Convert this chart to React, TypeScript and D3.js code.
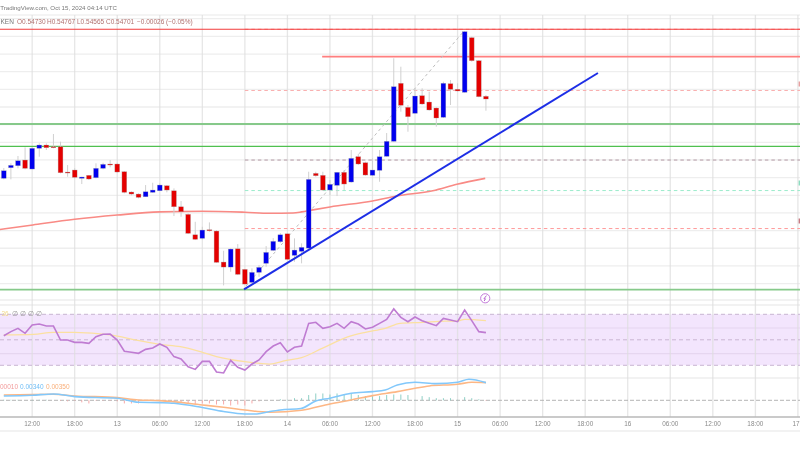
import React from "react";
import * as d3 from "d3";

const opens = [.52480,.52780,.52837,.52998,.52743,.53330,.53423,.53375,.53375,.52658,.52715,.52480,.52565,.52497,.52763,.52885,.52885,.52667,.52092,.52035,.51958,.52083,.52128,.52270,.52128,.51675,.51460,.50882,.50780,.51024,.50987,.50109,.49967,.50485,.49902,.49533,.49817,.50072,
.50440,.50684,.50910,.50298,.50411,.50505,.52621,.52565,.52148,.52281,.52650,.52375,.53092,.52922,.52565,.52706,.53103,.53528,.55171,.54491,.54321,.54820,.54641,.54471,.54208,.55160,.55001,.54916,.56463,.55811,.54803];
const highs = [.52772,.52905,.53112,.53358,.53358,.53471,.53471,.53735,.53517,.52856,.52763,.52525,.52573,.52905,.52922,.52998,.52922,.52687,.52112,.52055,.52290,.52355,.52338,.52290,.52196,.51837,.51488,.51250,.51109,.51233,.51015,.50429,.50497,.50618,.49910,.49930,.50024,.50562,
.50788,.50930,.50922,.50780,.50638,.52667,.52667,.52667,.52432,.52658,.52715,.53282,.53168,.52950,.53046,.53282,.53763,.55879,.55641,.54556,.55029,.55029,.54933,.54491,.55216,.55265,.55171,.56653,.56491,.55831,.54840];
const lows = [.52451,.52451,.52763,.52735,.52735,.53092,.53282,.53330,.52621,.52525,.52480,.52318,.52432,.52480,.52735,.52791,.52638,.52055,.51998,.51913,.51958,.52072,.52120,.52083,.51412,.51392,.50902,.50732,.50752,.50967,.50089,.49448,.49834,.49740,.49477,.49505,.49692,.49975,
.50420,.50647,.50165,.50117,.50072,.50485,.52525,.52128,.52007,.51978,.52148,.52355,.52856,.52553,.52545,.52383,.53092,.53517,.54367,.53800,.54301,.54556,.54395,.53942,.54188,.54556,.54933,.54905,.55783,.54774,.54395];
const closes = [.52695,.52848,.52978,.52763,.53330,.53423,.53347,.53358,.52638,.52630,.52508,.52517,.52460,.52763,.52876,.52865,.52658,.52083,.52035,.51941,.52100,.52148,.52290,.52148,.51675,.51534,.50922,.50752,.51015,.50995,.50100,.49967,.50477,.49760,.49485,.49817,.49958,.50383,
.50695,.50882,.50185,.50448,.50525,.52451,.52553,.52148,.52310,.52650,.52318,.53046,.52885,.52573,.52715,.53092,.53528,.55075,.54548,.54225,.54811,.54585,.54415,.54188,.55171,.55001,.54953,.56633,.55811,.54791,.54726];

const maIdx = [-0.54,4.1,10,16,22,28,34,37.5,40.8,42,43.4,46,52,55.4,60.5,63.9,67.9];
const maVals = [.5103,.5116,.5132,.5144,.5153,.5155,.5152,.5149,.5150,.5153,.5158,.5167,.5184,.5198,.5213,.5231,.5248];

const solidLevels = [.56701,.53386];
const softLevels = [.55925,.54018,.49329];
const softLevelStart = [44.9, -1, -1];
const dashedLevels = [.56701,.54967,.52998,.52134,.51058];
const dashedColors = ["#ff9a9a","#f9b0b0","#b49aa6","#9ceccc","#ff9a9a"];
const gridPrices = d3.range(0.495, 0.5701, 0.005);

const trendIdx = [33.88,83.8];
const trendVals = [.49335,.55463];
const fibIdx = [34.16,64.9];
const fibVals = [.4943,.5665];

const rsi = [53.2,56.4,59.0,55.1,61.6,62.4,60.8,60.8,49.8,49.8,48.0,48.0,47.2,52.4,54.3,54.5,49.8,41.0,40.2,39.4,42.5,43.6,46.7,44.1,36.8,35.0,28.9,26.8,33.1,33.1,24.7,24.0,33.9,28.4,26.3,31.0,34.2,40.7,45.1,47.7,40.4,44.1,45.1,62.9,63.7,59.0,60.3,62.9,59.0,64.2,62.4,58.5,59.8,62.9,66.0,74.2,67.6,64.2,67.9,65.0,62.9,61.1,66.8,65.5,64.2,73.4,65.0,56.4,55.6];
const rsiMaIdx = [0,4.2,7,10,15,18.7,22,24.9,28,30,34,37.5,39.7,42,44.9,48.6,51,53.8,55.9,59,62.3,64,65,68];
const rsiMa = [53.8,54.3,55.9,55.9,53.8,49.8,46.4,44.6,40.2,36.8,32.8,31.0,33.6,36.0,43.3,52.5,55.9,59.0,62.9,63.7,64.7,64.7,66.0,65.0];

const macdIdx = [0,4,7,10,16,19,22,24,28,31,34,35.7,37.5,39,41.9,44,46,49,52,53.8,55.5,58,61,64,65.6,68];
const macdVals = [.00083,.00096,.00121,.0007,.00039,-.00037,-.00044,-.00056,-.00138,-.00214,-.00259,-.00259,-.00214,-.00183,-.00157,-.00012,.00039,.00134,.00165,.00197,.00292,.00343,.00317,.00343,.004,.00336];
const signalIdx = [0,7,10,16,19,22,28,31,34,37.5,42,46,49,52,55.5,58,60,64,66,68];
const signalVals = [.00102,.00115,.00083,.00052,.00007,-.00006,-.00088,-.00132,-.00183,-.00227,-.00189,-.00069,.00007,.00089,.00165,.00229,.00273,.00305,.00343,.00336];
const hist = [.0001,.0001,.0001,0,.0001,.0001,.0001,0,-.0001,-.0002,-.0001,-.0004,-.0006,-.0001,-.0001,-.0001,-.0002,-.0006,-.0006,-.0006,-.0001,-.0001,-.0001,-.0001,-.0002,-.0004,-.0006,-.0008,-.0006,-.0006,-.0008,-.0008,-.001,-.0008,-.001,-.0006,-.0002,0,0,.0002,.0001,.0004,.0004,.001,.0013,.0013,.0011,.0013,.0011,.0013,.001,.0008,.0008,.0008,.001,.0011,.0011,.001,.0001,.0008,.0006,.0004,.0004,.0004,.0001,.0006,.0004,.0002,-.0001];

const tickIdx = d3.range(4, 113, 6);
const tickLabels = ["12:00","18:00","13","06:00","12:00","18:00","14","06:00","12:00","18:00","15","06:00","12:00","18:00","16","06:00","12:00","18:00","17"];

const headerTitle = "TradingView.com, Oct 15, 2024 04:14 UTC";
const ohlcLabels = ["O0.54730","H0.54767","L0.54565","C0.54701","−0.00026 (−0.05%)"];
const ohlcPos = [17,47,77,106,137];
const rsiNulls = ["∅","∅","∅","∅"];

const W = 800, H = 450;
const x = d3.scaleLinear().domain([0, 112]).range([3.8, 797.9]);
const y = d3.scaleLinear().domain([0.5753, 0.545]).range([0, 107]);
const yRsi = d3.scaleLinear().domain([70, 30]).range([314.3, 365.3]);
const yMacd = d3.scaleLinear().domain([0, 0.0038]).range([400.3, 380.3]);

const FONT = "'Liberation Sans', Arial, sans-serif";
const AXIS_Y = 417;

export default function App() {
  const maPath = d3.line<number>().x((_, i) => x(maIdx[i])).y((d) => y(d)).curve(d3.curveMonotoneX)(maVals)!;
  const rsiPath = d3.line<number>().x((_, i) => x(i)).y((d) => yRsi(d))(rsi)!;
  const rsiMaPath = d3.line<number>().x((_, i) => x(rsiMaIdx[i])).y((d) => yRsi(d)).curve(d3.curveMonotoneX)(rsiMa)!;
  const macdPath = d3.line<number>().x((_, i) => x(macdIdx[i])).y((d) => yMacd(d)).curve(d3.curveMonotoneX)(macdVals)!;
  const signalPath = d3.line<number>().x((_, i) => x(signalIdx[i])).y((d) => yMacd(d)).curve(d3.curveMonotoneX)(signalVals)!;
  const bw = 4.8;

  return (
    <svg width={W} height={H} viewBox={`0 0 ${W} ${H}`} style={{ position: "fixed", left: 0, top: 0, background: "#fff" }} fontFamily={FONT}>
      <defs>
        <filter id="soft" x="-2%" y="-2%" width="104%" height="104%">
          <feGaussianBlur stdDeviation="0.45" />
        </filter>
        <filter id="softText" x="-5%" y="-50%" width="110%" height="200%">
          <feGaussianBlur stdDeviation="0.3" />
        </filter>
      </defs>
      <rect width={W} height={H} fill="#fff" />
      <g filter="url(#soft)">
        {/* grid */}
        {gridPrices.map((p) => (
          <line key={p} x1={0} x2={W} y1={y(p)} y2={y(p)} stroke="#eeeeee" strokeWidth={1.3} />
        ))}
        <line x1={0} x2={W} y1={15} y2={15} stroke="#f1f1f1" strokeWidth={1.3} />
        {[300, 305, 378, 431].map((v) => (
          <line key={v} x1={0} x2={W} y1={v} y2={v} stroke="#eeeeee" strokeWidth={1.3} />
        ))}
        {/* RSI band */}
        <rect x={0} y={yRsi(70)} width={W} height={yRsi(30) - yRsi(70)} fill="#f3e5fd" />
        {[328, 353.6].map((v) => (
          <line key={v} x1={0} x2={W} y1={v} y2={v} stroke="#e6d6f0" strokeWidth={1.2} />
        ))}
        {tickIdx.map((t) => (
          <line key={t} x1={x(t)} x2={x(t)} y1={15} y2={AXIS_Y} stroke="#dddddd" strokeOpacity={0.75} strokeWidth={1.3} />
        ))}
        {[70, 50, 30].map((v) => (
          <line key={v} x1={0} x2={W} y1={yRsi(v)} y2={yRsi(v)} stroke="#c9b6d2" strokeWidth={1} strokeDasharray="4 3" />
        ))}
        <line x1={0} x2={W} y1={yMacd(0)} y2={yMacd(0)} stroke="#b5b5b5" strokeWidth={1} strokeDasharray="4 2" />
        <line x1={0} x2={W} y1={AXIS_Y} y2={AXIS_Y} stroke="#b9b9b9" strokeWidth={1.3} />

        {/* levels */}
        {dashedLevels.map((p, i) => (
          <line key={p} x1={x(34)} x2={W} y1={y(p)} y2={y(p)} stroke={dashedColors[i]} strokeWidth={1} strokeDasharray="3.5 3" />
        ))}
        {solidLevels.map((p, i) => (
          <line key={p} x1={0} x2={W} y1={y(p)} y2={y(p)} stroke={i === 0 ? "#f23a3a" : "#4fc04f"} strokeWidth={1.2} />
        ))}
        {softLevels.map((p, i) => (
          <line key={p} x1={softLevelStart[i] < 0 ? 0 : x(softLevelStart[i])} x2={W} y1={y(p)} y2={y(p)} stroke={i === 0 ? "#ff7f7f" : "#86c98a"} strokeWidth={1.8} />
        ))}

        {/* moving average */}
        <path d={maPath} fill="none" stroke="#f98a85" strokeWidth={1.6} />
        {/* fib diagonal */}
        <line x1={x(fibIdx[0])} y1={y(fibVals[0])} x2={x(fibIdx[1])} y2={y(fibVals[1])} stroke="#bdbdbd" strokeWidth={1} strokeDasharray="3 3" />

        {/* candles */}
        {opens.map((o, i) => {
          const c = closes[i];
          const up = c >= o;
          const top = y(Math.max(o, c));
          const bot = y(Math.min(o, c));
          const doji = bot - top < 1.2;
          const fill = doji ? (bot - top < 0.6 ? "#7a8a88" : up ? "#0000ee" : "#e00000") : up ? "#0000ee" : "#e40000";
          return (
            <g key={i}>
              <line x1={x(i)} x2={x(i)} y1={y(highs[i])} y2={y(lows[i])} stroke="#d0d0d0" strokeWidth={1} />
              <rect x={x(i) - bw / 2} y={top} width={bw} height={Math.max(bot - top, 1)} fill={fill} stroke="#a9a9a9" strokeOpacity={0.6} strokeWidth={0.5} />
            </g>
          );
        })}

        {/* trend line */}
        <line x1={x(trendIdx[0])} y1={y(trendVals[0])} x2={x(trendIdx[1])} y2={y(trendVals[1])} stroke="#1f2fe6" strokeWidth={2} />

        {/* lightning marker */}
        <circle cx={x(67.9)} cy={298.3} r={4.6} fill="#fff" stroke="#c27ad8" strokeWidth={1} />
        <path d={`M${x(67.9) + 1.2} 295.6 L${x(67.9) - 1.3} 298.8 L${x(67.9) + 0.2} 298.8 L${x(67.9) - 1} 301`} fill="none" stroke="#b765d0" strokeWidth={1} />

        {/* RSI */}
        <path d={rsiMaPath} fill="none" stroke="#fbe0a0" strokeWidth={1.3} />
        <path d={rsiPath} fill="none" stroke="#bf7bd2" strokeWidth={1.6} />

        {/* MACD */}
        {hist.map((h, i) => (
          <line key={i} x1={x(i)} x2={x(i)} y1={yMacd(0)} y2={yMacd(h)} stroke={h >= 0 ? "#8fcfc5" : "#f7a8a8"} strokeWidth={1} />
        ))}
        <path d={signalPath} fill="none" stroke="#fdb785" strokeWidth={1.6} />
        <path d={macdPath} fill="none" stroke="#82c8fb" strokeWidth={1.6} />

        {/* price-scale remnants at right edge */}
        <rect x={798.6} y={81.5} width={1.4} height={5} fill="#e7a0a0" />
        <rect x={798.6} y={180.5} width={1.4} height={5} fill="#8ddcc0" />
        <rect x={798.6} y={218.5} width={1.4} height={5} fill="#c87a82" />
      </g>

      {/* text */}
      <g filter="url(#softText)">
        <text x={0.2} y={10.2} fontSize={6.15} fill="#777">{headerTitle}</text>
        <text x={0.5} y={24.3} fontSize={6.5} fill="#777">KEN</text>
        {ohlcLabels.map((t, i) => (
          <text key={t} x={ohlcPos[i]} y={24.3} fontSize={6.5} fill="#b0706e">{t}</text>
        ))}
        {tickIdx.map((t, i) => (
          <text key={t} x={Math.min(x(t), 796)} y={426} fontSize={6.4} fill="#8a8a8a" textAnchor="middle">{tickLabels[i]}</text>
        ))}
        <text x={1.5} y={315.5} fontSize={6.5} fill="#f2d98c">36</text>
        {rsiNulls.map((t, i) => (
          <text key={i} x={12 + i * 8} y={315.5} fontSize={6.5} fill="#999">{t}</text>
        ))}
        <text x={0} y={388.5} fontSize={6.5} fill="#f29a9a">00010</text>
        <text x={20} y={388.5} fontSize={6.5} fill="#6fbdf5">0.00340</text>
        <text x={46} y={388.5} fontSize={6.5} fill="#f9ae78">0.00350</text>
      </g>
    </svg>
  );
}
